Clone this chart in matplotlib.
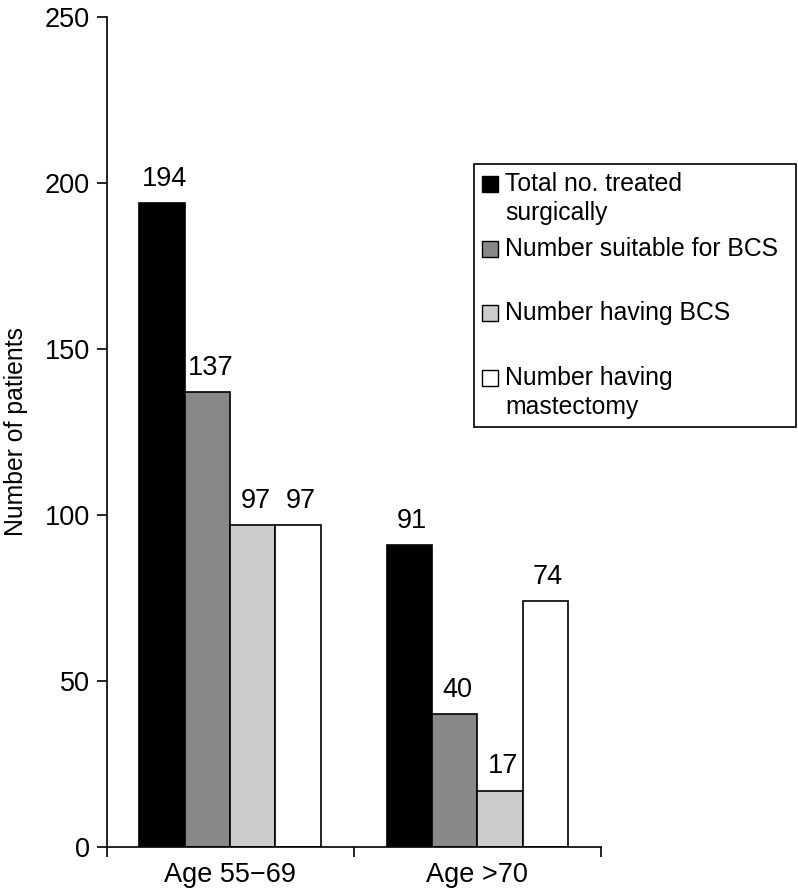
import matplotlib
matplotlib.use("Agg")
import matplotlib.pyplot as plt
from matplotlib.patches import Rectangle
import numpy as np

plt.rcParams['font.family'] = ['Liberation Sans', 'DejaVu Sans']

# data
groups = ['Age 55\u221269', 'Age >70']
series = ['Total no. treated\nsurgically', 'Number suitable for BCS',
          'Number having BCS', 'Number having\nmastectomy']
values = [
    [194, 91],
    [137, 40],
    [97, 17],
    [97, 74],
]
colors = ['#000000', '#888888', '#cccccc', '#ffffff']

W, H = 798, 891
fig = plt.figure(figsize=(W / 100, H / 100), dpi=100)
ax = fig.add_axes([106.5 / W, 1 - 847 / H, (601 - 106.5) / W, (847 - 17) / H])

fs_num = 19.5
fs_txt = 17.8
x = np.arange(len(groups))
bw = 0.1834
for i, (vals, c) in enumerate(zip(values, colors)):
    pos = x + (i - 1.5) * bw
    bars = ax.bar(pos, vals, width=bw, color=c, edgecolor='black', linewidth=1.2, zorder=2)
    for b, v in zip(bars, vals):
        ax.annotate(str(v), (b.get_x() + b.get_width() / 2, v), xytext=(2, 8),
                    textcoords='offset points', ha='center', va='bottom', fontsize=fs_num)

ax.set_xlim(-0.5, 1.5)
ax.set_ylim(0, 250)
ax.set_yticks(range(0, 251, 50))
ax.set_xticks(x)
ax.set_xticklabels(groups, fontsize=fs_num)
ax.set_xticks([-0.5, 0.5, 1.5], minor=True)
ax.tick_params(axis='x', which='major', length=0, pad=11)
ax.tick_params(axis='x', which='minor', length=7, width=1.2, direction='out')
ax.tick_params(axis='y', length=7, width=1.2, labelsize=fs_num, pad=5)
for s in ['top', 'right']:
    ax.spines[s].set_visible(False)
for s in ['left', 'bottom']:
    ax.spines[s].set_linewidth(1.2)
ax.set_ylabel('Number of patients', fontsize=fs_txt, labelpad=12)

# legend box drawn in figure pixels
def fx(px):
    return px / W

def fy(py):
    return 1 - py / H

fig.patches.append(Rectangle((fx(474), fy(427)), fx(796) - fx(474), fy(164) - fy(427),
                             transform=fig.transFigure, facecolor='white',
                             edgecolor='black', linewidth=1.2, zorder=5))
rows = [184, 249, 313, 378]
for lab, c, yc in zip(series, colors, rows):
    fig.patches.append(Rectangle((fx(482), fy(yc + 8)), fx(16), 16 / H,
                                 transform=fig.transFigure, facecolor=c,
                                 edgecolor='black', linewidth=1.0, zorder=6))
    for k, line in enumerate(lab.split('\n')):
        fig.text(fx(505), fy(yc + 29 * k), line, fontsize=fs_txt, va='center', ha='left', zorder=7)

fig.savefig('out.png', dpi=100)
